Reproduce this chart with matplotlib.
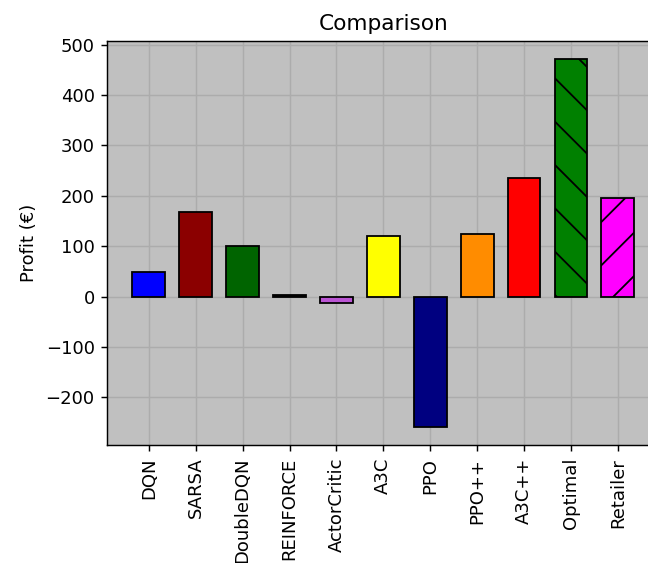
import matplotlib
matplotlib.use("Agg")
import matplotlib.pyplot as plt

names = ['DQN', 'SARSA', 'DoubleDQN', 'REINFORCE', 'ActorCritic', 'A3C',
         'PPO', 'PPO++', 'A3C++', 'Optimal', 'Retailer']
profits = [48, 167, 101, 3, -12, 121, -258, 124, 236, 471, 195]
colors = ['blue', 'darkred', 'darkgreen', 'black', 'mediumorchid', 'yellow',
          'navy', 'darkorange', 'red', 'green', 'magenta']
hatches = ['', '', '', '', '', '', '', '', '', '\\', '/']

DPI = 130
fig = plt.figure(figsize=(648 / DPI, 563 / DPI), dpi=DPI)
# axes runs past the right edge, like the cropped original
ax = fig.add_axes([0.1656, 0.2096, 0.852, 0.718])
ax.set_facecolor('silver')
ax.grid(True, color='#acacac', linewidth=0.8)
ax.set_axisbelow(True)

x = range(len(names))
bars = ax.bar(x, profits, width=0.7, color=colors, edgecolor='black', linewidth=1)
for b, h in zip(bars, hatches):
    if h:
        b.set_hatch(h)

ax.set_xticks(list(x))
ax.set_xticklabels(names, rotation=90)
ax.set_ylabel('Profit (€)')
ax.set_title('Comparison')

fig.savefig('out.png', dpi=DPI)
